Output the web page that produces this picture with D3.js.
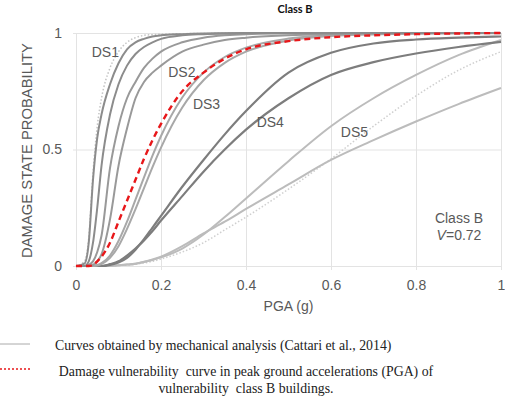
<!DOCTYPE html>
<html>
<head>
<meta charset="utf-8">
<script src="https://cdn.jsdelivr.net/npm/d3@7"></script>
<style>
  body { margin: 0; background: #fff; }
  svg { display: block; }
</style>
</head>
<body>
<div id="canvas"></div>
<script>
// PGA sample points (g) and probabilities
const pga = [0, 0.02, 0.03, 0.04, 0.05, 0.06, 0.08, 0.1, 0.12, 0.14, 0.16, 0.18, 0.2, 0.25, 0.3, 0.35, 0.4, 0.5, 0.6, 0.7, 0.8, 0.9, 1];

const ds1Dotted = [0, 0.02, 0.12, 0.4, 0.6, 0.72, 0.85, 0.92, 0.96, 0.98, 0.99, 0.993, 0.995, 0.997, 0.998, 0.999, 1, 1, 1, 1, 1, 1, 1];
const ds1a = [0, 0.01, 0.1, 0.37, 0.55, 0.65, 0.78, 0.87, 0.93, 0.96, 0.975, 0.985, 0.99, 0.995, 0.998, 0.999, 1, 1, 1, 1, 1, 1, 1];
const ds1b = [0, 0, 0.02, 0.1, 0.25, 0.43, 0.65, 0.78, 0.86, 0.91, 0.94, 0.96, 0.975, 0.99, 0.995, 0.998, 1, 1, 1, 1, 1, 1, 1];
const ds2a = [0, 0, 0.005, 0.02, 0.06, 0.13, 0.42, 0.6, 0.72, 0.79, 0.85, 0.89, 0.92, 0.96, 0.98, 0.99, 0.995, 0.998, 1, 1, 1, 1, 1];
const ds2b = [0, 0, 0, 0.005, 0.02, 0.05, 0.2, 0.43, 0.59, 0.72, 0.79, 0.83, 0.86, 0.92, 0.95, 0.97, 0.98, 0.99, 0.995, 0.998, 1, 1, 1];
const ds3a = [0, 0, 0, 0.001, 0.004, 0.012, 0.045, 0.107, 0.19, 0.285, 0.38, 0.474, 0.558, 0.723, 0.83, 0.897, 0.937, 0.976, 0.99, 0.996, 0.998, 0.999, 1];
const ds3b = [0, 0, 0, 0, 0.002, 0.008, 0.035, 0.085, 0.159, 0.244, 0.334, 0.424, 0.508, 0.68, 0.797, 0.872, 0.92, 0.968, 0.987, 0.994, 0.997, 0.999, 0.999];
const ds4a = [0, 0, 0, 0, 0, 0, 0.005, 0.015, 0.035, 0.07, 0.115, 0.165, 0.215, 0.34, 0.455, 0.565, 0.665, 0.83, 0.915, 0.955, 0.972, 0.98, 0.985];
const ds4b = [0, 0, 0, 0, 0, 0, 0.008, 0.02, 0.045, 0.075, 0.11, 0.15, 0.195, 0.3, 0.405, 0.5, 0.585, 0.72, 0.82, 0.875, 0.912, 0.94, 0.962];
const ds5a = [0, 0, 0, 0, 0, 0, 0, 0.003, 0.006, 0.01, 0.017, 0.026, 0.037, 0.075, 0.135, 0.21, 0.29, 0.45, 0.6, 0.72, 0.82, 0.905, 0.97];
const ds5b = [0, 0, 0, 0, 0, 0, 0, 0.003, 0.006, 0.01, 0.018, 0.028, 0.04, 0.085, 0.14, 0.19, 0.245, 0.35, 0.455, 0.54, 0.62, 0.695, 0.764];
const ds5Dotted = [0, 0, 0, 0, 0, 0, 0, 0.002, 0.004, 0.008, 0.013, 0.02, 0.03, 0.06, 0.1, 0.155, 0.21, 0.33, 0.46, 0.6, 0.73, 0.84, 0.92];
const classB = [0, 0, 0, 0.005, 0.02, 0.04, 0.1, 0.19, 0.28, 0.37, 0.46, 0.54, 0.61, 0.75, 0.83, 0.89, 0.93, 0.965, 0.982, 0.99, 0.995, 0.998, 1];

const xTicks = [0, 0.2, 0.4, 0.6, 0.8, 1];
const xTickLabels = ["0", "0.2", "0.4", "0.6", "0.8", "1"];
const yTicks = [0, 0.5, 1];
const yTickLabels = ["0", "0.5", "1"];

const dsLabels = ["DS1", "DS2", "DS3", "DS4", "DS5"];
const dsLabelPos = [[0.037, 0.895], [0.217, 0.81], [0.275, 0.675], [0.425, 0.595], [0.623, 0.555]];

const width = 505, height = 398;
const margin = { top: 33, right: 4, bottom: 132, left: 76 };
const plotW = width - margin.left - margin.right;
const plotH = height - margin.top - margin.bottom;

const svg = d3.select("#canvas").append("svg")
    .attr("width", width)
    .attr("height", height);

const x = d3.scaleLinear().domain([0, 1]).range([margin.left, margin.left + plotW]);
const y = d3.scaleLinear().domain([0, 1]).range([margin.top + plotH, margin.top]);

// grid + tick labels
const xAxis = svg.append("g")
    .attr("transform", `translate(0,${margin.top + plotH + 4})`)
    .call(d3.axisBottom(x).tickValues(xTicks)
        .tickFormat((d, i) => xTickLabels[i])
        .tickSize(-(plotH + 4)).tickPadding(10));
xAxis.select(".domain").remove();
xAxis.selectAll("line").attr("stroke", "#e3e3e3");

const yAxis = svg.append("g")
    .attr("transform", `translate(${margin.left - 3},0)`)
    .call(d3.axisLeft(y).tickValues(yTicks)
        .tickFormat((d, i) => yTickLabels[i])
        .tickSize(-(plotW + 3)).tickPadding(11));
yAxis.select(".domain").remove();
yAxis.selectAll("line").attr("stroke", "#e3e3e3");

svg.selectAll(".tick text")
    .attr("font-family", "Liberation Sans, Arial, sans-serif")
    .attr("font-size", 14)
    .attr("fill", "#595959");

const series = [
  { v: ds5Dotted, color: "#cfcfcf", w: 1.5, dash: "1.5,2" },
  { v: ds5a, color: "#bcbcbc", w: 2 },
  { v: ds5b, color: "#bcbcbc", w: 2 },
  { v: ds4a, color: "#7d7d7d", w: 2.2 },
  { v: ds4b, color: "#7d7d7d", w: 2.2 },
  { v: ds3a, color: "#a8a8a8", w: 2 },
  { v: ds3b, color: "#a8a8a8", w: 2 },
  { v: ds2a, color: "#999999", w: 2 },
  { v: ds2b, color: "#999999", w: 2 },
  { v: ds1Dotted, color: "#c4c4c4", w: 1.5, dash: "1.5,2" },
  { v: ds1a, color: "#8c8c8c", w: 2 },
  { v: ds1b, color: "#8c8c8c", w: 2 },
  { v: classB, color: "#e8171a", w: 2.4, dash: "6,4" }
];

const line = d3.line()
    .x(d => x(d[0]))
    .y(d => y(d[1]))
    .curve(d3.curveMonotoneX);

svg.append("g").selectAll("path")
    .data(series)
    .enter().append("path")
    .attr("d", s => line(pga.map((p, i) => [p, s.v[i]])))
    .attr("fill", "none")
    .attr("stroke", s => s.color)
    .attr("stroke-width", s => s.w)
    .attr("stroke-dasharray", s => s.dash || null)
    .attr("stroke-linecap", "butt");

// DS labels
svg.selectAll(".ds")
    .data(dsLabels)
    .enter().append("text")
    .attr("class", "ds")
    .attr("x", (d, i) => x(dsLabelPos[i][0]))
    .attr("y", (d, i) => y(dsLabelPos[i][1]))
    .attr("font-family", "Liberation Sans, Arial, sans-serif")
    .attr("font-size", 14)
    .attr("fill", "#595959")
    .text(d => d);

// title
svg.append("text")
    .attr("x", 295).attr("y", 13)
    .attr("text-anchor", "middle")
    .attr("font-family", "Lato, sans-serif")
    .attr("font-weight", "bold")
    .attr("font-size", 11)
    .attr("fill", "#111")
    .text("Class B");

// axis titles
svg.append("text")
    .attr("transform", `translate(32,${y(0.5) + 1}) rotate(-90)`)
    .attr("text-anchor", "middle")
    .attr("font-family", "Liberation Sans, Arial, sans-serif")
    .attr("font-size", 14.8)
    .attr("fill", "#595959")
    .text("DAMAGE STATE PROBABILITY");

svg.append("text")
    .attr("x", x(0.5)).attr("y", 311)
    .attr("text-anchor", "middle")
    .attr("font-family", "Liberation Sans, Arial, sans-serif")
    .attr("font-size", 14)
    .attr("fill", "#595959")
    .text("PGA (g)");

// class annotation
const ann = svg.append("text")
    .attr("text-anchor", "middle")
    .attr("font-family", "Liberation Sans, Arial, sans-serif")
    .attr("font-size", 14)
    .attr("fill", "#595959");
ann.append("tspan").attr("x", 459).attr("y", 223).text("Class B");
const t2 = ann.append("tspan").attr("x", 459).attr("y", 240);
t2.append("tspan").attr("font-style", "italic").text("V");
t2.append("tspan").text("=0.72");

// legend
svg.append("line")
    .attr("x1", 0).attr("x2", 30).attr("y1", 344).attr("y2", 344)
    .attr("stroke", "#aaaaaa").attr("stroke-width", 1);
svg.append("text")
    .attr("x", 55).attr("y", 350)
    .attr("font-family", "Liberation Serif, Times New Roman, serif")
    .attr("font-size", 13.8)
    .attr("fill", "#222")
    .text("Curves obtained by mechanical analysis (Cattari et al., 2014)");

svg.append("line")
    .attr("x1", 0).attr("x2", 31).attr("y1", 369).attr("y2", 369)
    .attr("stroke", "#e8171a").attr("stroke-width", 1.5)
    .attr("stroke-dasharray", "2,2");
const leg = svg.append("text")
    .attr("text-anchor", "middle")
    .attr("font-family", "Liberation Serif, Times New Roman, serif")
    .attr("font-size", 13.8)
    .attr("fill", "#222");
leg.append("tspan").attr("x", 246).attr("y", 376).attr("xml:space", "preserve")
    .text("Damage vulnerability  curve in peak ground accelerations (PGA) of");
leg.append("tspan").attr("x", 246).attr("y", 393).attr("xml:space", "preserve")
    .text("vulnerability  class B buildings.");
</script>
</body>
</html>
